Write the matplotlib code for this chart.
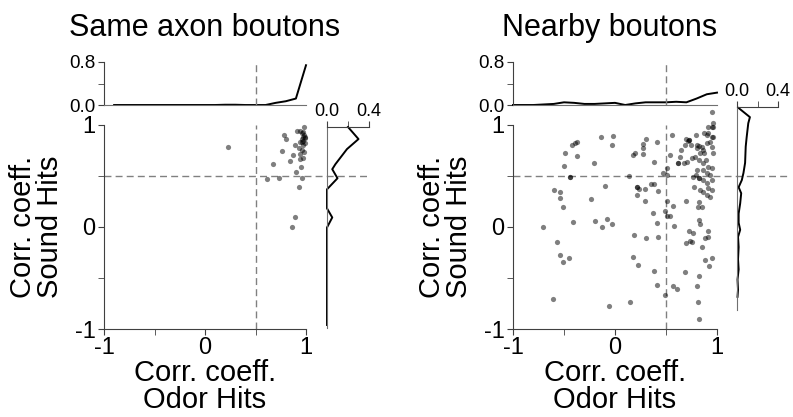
import numpy as np
import matplotlib.pyplot as plt

plt.rcParams['font.family'] = ['Liberation Sans', 'DejaVu Sans']
plt.rcParams['axes.unicode_minus'] = False

# ---- data ----
# same axon boutons (odor corr, sound corr)
same_x = [0.225, 0.782, 0.802, 0.908, 0.94, 0.98, 0.957, 0.98, 0.973, 0.99, 0.957,
          0.973, 0.94, 0.99, 0.973, 0.89, 0.934, 0.766, 0.874, 0.957, 0.98, 0.94,
          0.973, 0.94, 0.84, 0.67, 0.95, 0.90, 0.617, 0.736, 0.963, 0.934, 0.89,
          0.858, 0.97, 0.99, 0.96]
same_y = [0.78, 0.90, 0.86, 0.944, 0.944, 0.977, 0.918, 0.90, 0.886, 0.87, 0.86,
          0.846, 0.837, 0.82, 0.804, 0.804, 0.77, 0.745, 0.71, 0.755, 0.74, 0.72,
          0.68, 0.67, 0.65, 0.615, 0.585, 0.536, 0.47, 0.48, 0.48, 0.395, 0.095,
          0.003, 0.93, 0.88, 0.83]

# nearby boutons
near_x = [0.948, 0.964, 0.915, 0.948, 0.964, 0.873, 0.899, 0.915, 0.948, 0.964,
          0.794, 0.562, 0.696, 0.729, 0.742, 0.801, 0.827, 0.850, 0.866, 0.899,
          0.932, 0.948, 0.958, 0.873, 0.834, 0.801, 0.785, 0.752, 0.703, 0.677,
          0.621, 0.637, 0.644, 0.686, 0.719, 0.827, 0.860, 0.892, 0.915, 0.948,
          0.932, 0.899, 0.866, 0.801, 0.794, 0.827, 0.768, 0.866, 0.899, 0.948,
          0.915, 0.948, 0.866, 0.834, 0.775, 0.827, 0.850, 0.817, 0.696, 0.899,
          0.932, 0.539, 0.507, 0.468, 0.507, 0.386, 0.415, 0.304, 0.271, 0.278,
          0.278, 0.173, 0.196, 0.137, 0.213, 0.239, 0.294, 0.350, 0.383, 0.425,
          0.294, 0.213, 0.507, 0.572, 0.490, 0.513, 0.539, 0.579, 0.409, 0.369,
          0.186, 0.304, 0.425, 0.180, 0.229, 0.386, 0.409, 0.490, 0.572, 0.611,
          0.690, 0.820, 0.801, 0.817, 0.883, 0.925, 0.948, 0.856, 0.879, 0.915,
          0.915, 0.834, 0.827, 0.729, 0.762, 0.696, 0.735, 0.755, -0.137, -0.016,
          -0.026, -0.369, -0.490, -0.500, -0.425, -0.392, -0.369, -0.202, -0.441,
          -0.101, -0.238, -0.539, -0.539, -0.513, -0.408, -0.196, -0.082, -0.131,
          -0.026, -0.539, -0.513, -0.451, -0.055, 0.147, -0.595, -0.703, -0.565,
          -0.611, 0.824, -0.441, 0.213, 0.827, 0.621, 0.729]
near_y = [1.131, 1.023, 0.984, 0.977, 0.984, 0.918, 0.902, 0.925, 0.886, 0.879,
          0.902, 0.902, 0.859, 0.853, 0.804, 0.804, 0.794, 0.788, 0.755, 0.820,
          0.837, 0.788, 0.722, 0.722, 0.722, 0.771, 0.689, 0.673, 0.640, 0.631,
          0.624, 0.689, 0.755, 0.804, 0.846, 0.657, 0.624, 0.657, 0.591, 0.575,
          0.510, 0.526, 0.559, 0.559, 0.510, 0.477, 0.493, 0.461, 0.428, 0.461,
          0.379, 0.363, 0.346, 0.363, 0.389, 0.248, 0.199, 0.199, 0.258, 0.314,
          0.291, 0.706, 0.575, 0.533, 0.510, 0.641, 0.830, 0.859, 0.810, 0.771,
          0.716, 0.706, 0.722, 0.503, 0.389, 0.369, 0.373, 0.422, 0.422, 0.353,
          0.258, 0.314, 0.258, 0.206, 0.157, 0.108, 0.108, 0.010, 0.042, 0.134,
          -0.082, -0.111, -0.101, -0.297, -0.369, -0.428, -0.569, -0.667, -0.578, -0.611,
          -0.438, -0.480, -0.578, -0.732, -0.324, -0.382, -0.307, -0.193, -0.111, -0.101,
          -0.036, 0.029, 0.069, -0.039, -0.056, -0.154, -0.137, -0.147, 0.879, 0.895,
          0.807, 0.696, 0.729, 0.598, 0.801, 0.820, 0.833, 0.627, 0.493,
          0.405, 0.274, 0.346, 0.281, 0.199, 0.052, 0.059, 0.075, 0.003,
          0.026, -0.275, -0.346, -0.301, -0.775, -0.739, 0.363, 0.0, -0.150,
          -0.706, -0.90, 0.493, 0.389, 0.477, 0.624, 0.853]

# top marginals (odor corr distribution)
same_top_x = [-0.9, -0.8, -0.7, -0.6, -0.5, -0.4, -0.3, -0.2, -0.1, 0.0, 0.1, 0.2,
              0.3, 0.4, 0.5, 0.6, 0.7, 0.8, 0.9, 1.0]
same_top_v = [0, 0, 0, 0, 0, 0, 0, 0, 0, 0, 0, 0.005, 0.005, 0, 0, 0, 0.04, 0.07,
              0.12, 0.74]
near_top_x = [-1.0, -0.9, -0.8, -0.7, -0.6, -0.5, -0.4, -0.3, -0.2, -0.1, 0.0, 0.1,
              0.2, 0.3, 0.4, 0.5, 0.6, 0.7, 0.8, 0.9, 1.0]
near_top_v = [0.0, 0.0, 0.0, 0.01, 0.02, 0.05, 0.04, 0.02, 0.02, 0.03, 0.04, 0.0,
              0.03, 0.05, 0.05, 0.05, 0.06, 0.05, 0.12, 0.20, 0.23]

# right marginals (sound corr distribution)
same_side_y = [1.0, 0.88, 0.78, 0.63, 0.58, 0.49, 0.38, 0.19, 0.10, 0.0, -0.97]
same_side_v = [0.2, 0.30, 0.19, 0.08, 0.05, 0.10, 0.0, 0.0, 0.05, 0.0, 0.0]
near_side_y = [0.99, 0.90, 0.84, 0.70, 0.61, 0.45, 0.35, 0.28, 0.21, 0.15, 0.05,
               -0.05, -0.14, -0.21, -0.28, -0.38, -0.5, -0.6, -0.7, -0.8, -0.87]
near_side_v = [0.016, 0.126, 0.11, 0.094, 0.085, 0.079, 0.063, 0.047, 0.016, 0.041,
               0.031, 0.016, 0.016, 0.031, 0.01, 0.016, 0.01, 0.016, 0.005, 0.01, 0.005]

W, H = 793, 417
fig = plt.figure(figsize=(W / 100, H / 100), dpi=100)


def rect(x0, y0, x1, y1):
    # pixel box (top-left origin) -> figure fraction
    return [x0 / W, 1 - y1 / H, (x1 - x0) / W, (y1 - y0) / H]


spine_col = '#404040'
dash_col = '#808080'


def main_panel(box, xs, ys, dash_ext):
    ax = fig.add_axes(rect(*box))
    ax.scatter(xs, ys, s=14, c='k', alpha=0.5, linewidths=0, clip_on=False, zorder=3)
    ax.set_xlim(-1, 1)
    ax.set_ylim(-1, 1)
    ax.axvline(0.5, color=dash_col, lw=1, ls=(0, (5, 3)))
    ax.axhline(0.5, xmin=0, xmax=dash_ext, color=dash_col, lw=1, ls=(0, (5, 3)),
               clip_on=False)
    for s in ['top', 'right']:
        ax.spines[s].set_visible(False)
    for s in ['left', 'bottom']:
        ax.spines[s].set_color(spine_col)
    ax.set_xticks([-1, 0, 1])
    ax.set_xticks([-0.5, 0.5], minor=True)
    ax.set_yticks([-1, 0, 1])
    ax.set_yticks([-0.5, 0.5], minor=True)
    ax.tick_params(which='both', length=4, color=spine_col, labelsize=17, pad=2)
    ax.set_xlabel('Corr. coeff.\nOdor Hits', fontsize=21, linespacing=0.95, labelpad=0)
    ax.set_ylabel('Corr. coeff.\nSound Hits', fontsize=21, linespacing=0.95, labelpad=8)
    return ax


def top_panel(box, xs, vs):
    ax = fig.add_axes(rect(*box))
    ax.plot(xs, vs, color='k', lw=1.4, clip_on=False)
    ax.set_xlim(-1, 1)
    ax.set_ylim(0, 0.8)
    ax.axvline(0.5, color=dash_col, lw=1, ls=(0, (5, 3)))
    for s in ['top', 'right']:
        ax.spines[s].set_visible(False)
    ax.spines['left'].set_color(spine_col)
    ax.spines['bottom'].set_color('#707070')
    ax.set_xticks([])
    ax.set_yticks([0, 0.8])
    ax.set_yticklabels(['0.0', '0.8'])
    ax.set_yticks([0.4], minor=True)
    ax.tick_params(which='both', length=4, color=spine_col, labelsize=13.5, pad=2)
    ax.patch.set_alpha(0)
    return ax


def side_panel(box, ys, vs):
    ax = fig.add_axes(rect(*box))
    ax.plot(vs, ys, color='k', lw=1.4, clip_on=False)
    ax.set_xlim(0, 0.4)
    ax.set_ylim(-1, 1)
    for s in ['bottom', 'right']:
        ax.spines[s].set_visible(False)
    ax.spines['left'].set_color('#707070')
    ax.spines['top'].set_color(spine_col)
    ax.xaxis.tick_top()
    ax.set_xticks([0, 0.4])
    ax.set_xticklabels(['0.0', '0.4'])
    ax.set_xticks([0.2], minor=True)
    ax.set_yticks([])
    ax.tick_params(which='both', length=4, color=spine_col, labelsize=13, pad=1)
    ax.patch.set_alpha(0)
    return ax


main_panel((104, 125, 306, 329), same_x, same_y, 1.317)
top_panel((104, 62, 306, 105), same_top_x, same_top_v)
side_panel((327, 127, 369, 328), same_side_y, same_side_v)

main_panel((513, 125, 717, 329), near_x, near_y, 1.358)
top_panel((513, 62, 717, 105), near_top_x, near_top_v)
side_panel((737, 107, 778, 310), near_side_y, near_side_v)

fig.text(205 / W, 1 - 28 / H, 'Same axon boutons', fontsize=22, ha='center', va='center')
fig.text(610 / W, 1 - 28 / H, 'Nearby boutons', fontsize=22, ha='center', va='center')

fig.savefig('out.png', dpi=100)
